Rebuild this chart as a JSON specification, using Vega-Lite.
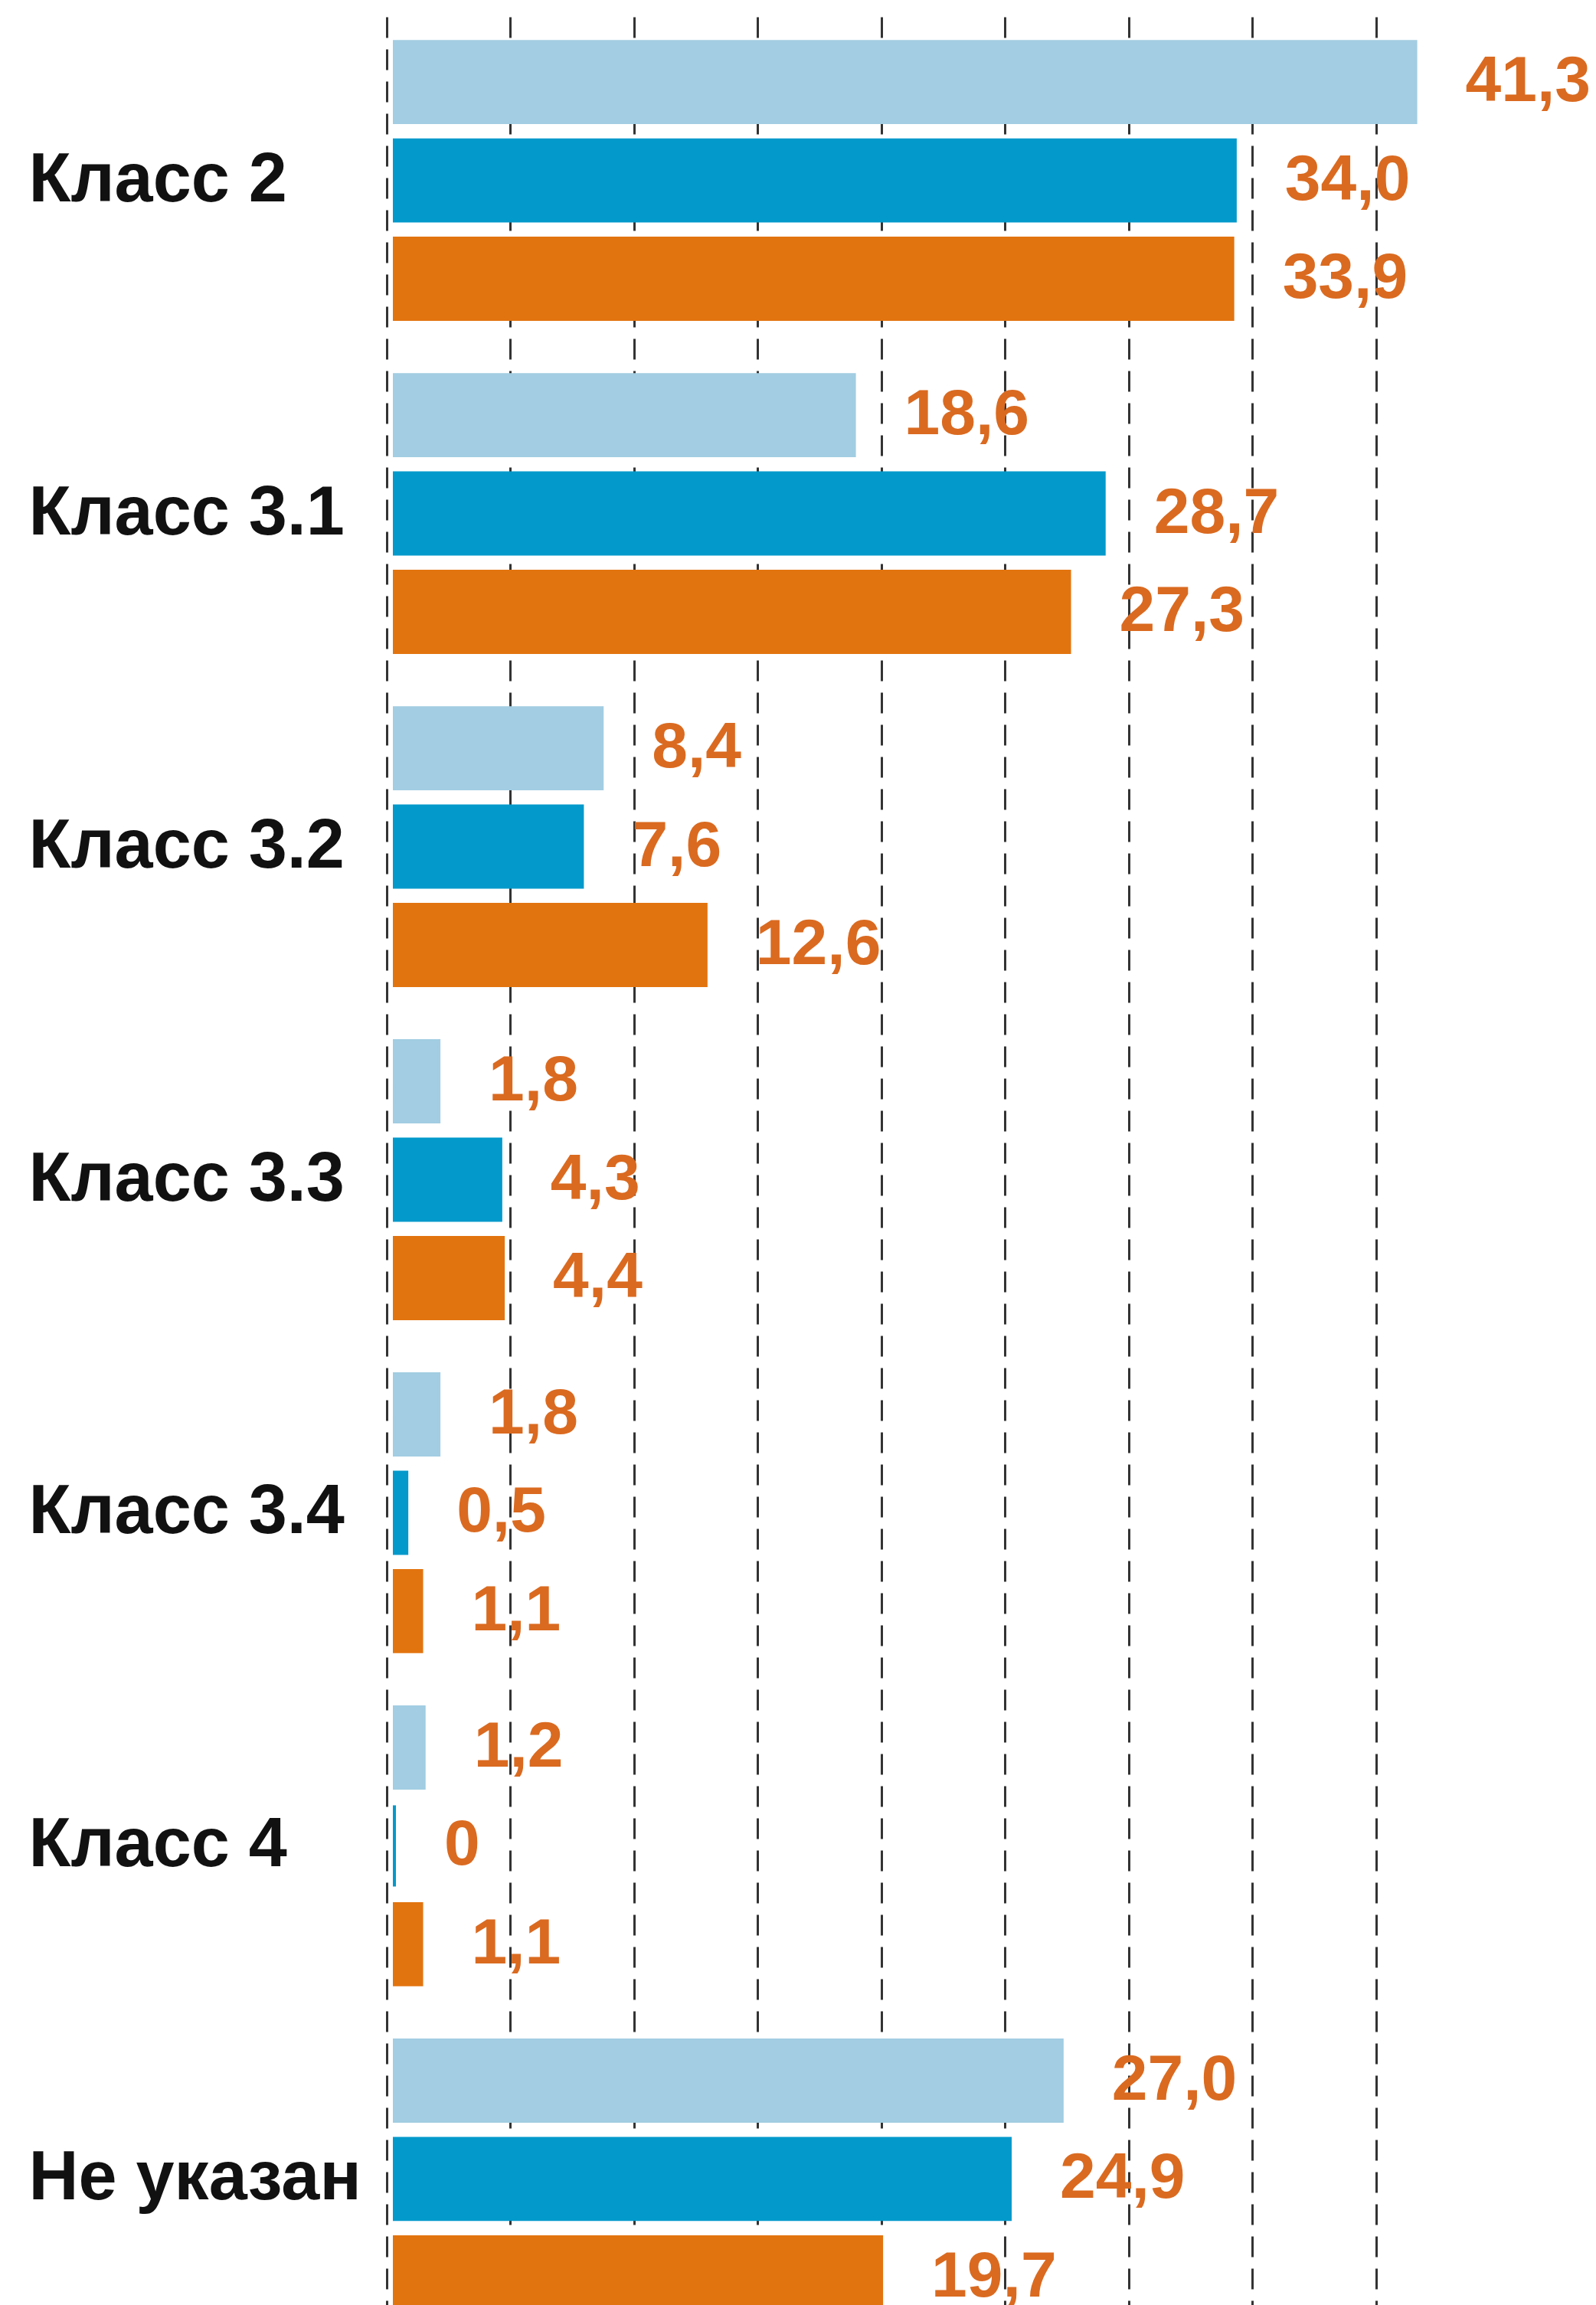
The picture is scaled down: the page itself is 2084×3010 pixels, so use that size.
{
  "$schema": "https://vega.github.io/schema/vega-lite/v6.json",
  "autosize": {"type": "none"},
  "padding": {"left": 505, "top": 22, "right": 0, "bottom": 0},
  "width": 1579,
  "height": 3037,
  "background": "white",
  "data": {
    "values": [
      {"category": "Класс 2", "series": "Ряд 1", "value": 41.3},
      {"category": "Класс 2", "series": "Ряд 2", "value": 34.0},
      {"category": "Класс 2", "series": "Ряд 3", "value": 33.9},
      {"category": "Класс 3.1", "series": "Ряд 1", "value": 18.6},
      {"category": "Класс 3.1", "series": "Ряд 2", "value": 28.7},
      {"category": "Класс 3.1", "series": "Ряд 3", "value": 27.3},
      {"category": "Класс 3.2", "series": "Ряд 1", "value": 8.4},
      {"category": "Класс 3.2", "series": "Ряд 2", "value": 7.6},
      {"category": "Класс 3.2", "series": "Ряд 3", "value": 12.6},
      {"category": "Класс 3.3", "series": "Ряд 1", "value": 1.8},
      {"category": "Класс 3.3", "series": "Ряд 2", "value": 4.3},
      {"category": "Класс 3.3", "series": "Ряд 3", "value": 4.4},
      {"category": "Класс 3.4", "series": "Ряд 1", "value": 1.8},
      {"category": "Класс 3.4", "series": "Ряд 2", "value": 0.5},
      {"category": "Класс 3.4", "series": "Ряд 3", "value": 1.1},
      {"category": "Класс 4", "series": "Ряд 1", "value": 1.2},
      {"category": "Класс 4", "series": "Ряд 2", "value": 0},
      {"category": "Класс 4", "series": "Ряд 3", "value": 1.1},
      {"category": "Не указан", "series": "Ряд 1", "value": 27.0},
      {"category": "Не указан", "series": "Ряд 2", "value": 24.9},
      {"category": "Не указан", "series": "Ряд 3", "value": 19.7}
    ]
  },
  "transform": [
    {"calculate": "datum.value === 0 ? '0' : replace(format(datum.value, '.1f'), '.', ',')", "as": "label"}
  ],
  "encoding": {
    "y": {
      "field": "category",
      "type": "nominal",
      "sort": ["Класс 2", "Класс 3.1", "Класс 3.2", "Класс 3.3", "Класс 3.4", "Класс 4", "Не указан"],
      "scale": {"paddingInner": 0.166, "paddingOuter": 0.074},
      "axis": {
        "title": null,
        "domain": false,
        "ticks": false,
        "tickSize": 0,
        "grid": false,
        "labelAlign": "left",
        "labelBaseline": "middle",
        "labelPadding": 468,
        "labelLimit": 0,
        "labelFont": "Liberation Sans",
        "labelFontWeight": "bold",
        "labelFontSize": 90,
        "labelColor": "#111111"
      }
    },
    "yOffset": {
      "field": "series",
      "type": "nominal",
      "sort": ["Ряд 1", "Ряд 2", "Ряд 3"],
      "scale": {"paddingInner": 0.176, "paddingOuter": 0}
    },
    "x": {
      "field": "value",
      "type": "quantitative",
      "scale": {"domain": [0, 48.9], "nice": false, "zero": true},
      "axis": {
        "orient": "top",
        "title": null,
        "values": [0, 5, 10, 15, 20, 25, 30, 35, 40],
        "labels": false,
        "ticks": false,
        "domain": false,
        "grid": true,
        "gridColor": "#333333",
        "gridDash": [27, 15],
        "gridWidth": 3,
        "gridOpacity": 1
      }
    }
  },
  "layer": [
    {
      "mark": {"type": "bar", "strokeWidth": 4, "xOffset": 10, "clip": false},
      "encoding": {
        "color": {
          "field": "series",
          "type": "nominal",
          "scale": {"domain": ["Ряд 1", "Ряд 2", "Ряд 3"], "range": ["#A2CDE2", "#0399CB", "#E2740F"]},
          "legend": null
        },
        "stroke": {
          "field": "series",
          "type": "nominal",
          "scale": {"domain": ["Ряд 1", "Ряд 2", "Ряд 3"], "range": ["#A2CDE2", "#0399CB", "#E2740F"]},
          "legend": null
        }
      }
    },
    {
      "mark": {
        "type": "text",
        "align": "left",
        "baseline": "middle",
        "dx": 75,
        "font": "Liberation Sans",
        "fontWeight": "bold",
        "fontSize": 84,
        "fill": "#DA6A20",
        "clip": false
      },
      "encoding": {
        "text": {"field": "label", "type": "nominal"}
      }
    }
  ],
  "config": {"view": {"stroke": null}}
}
